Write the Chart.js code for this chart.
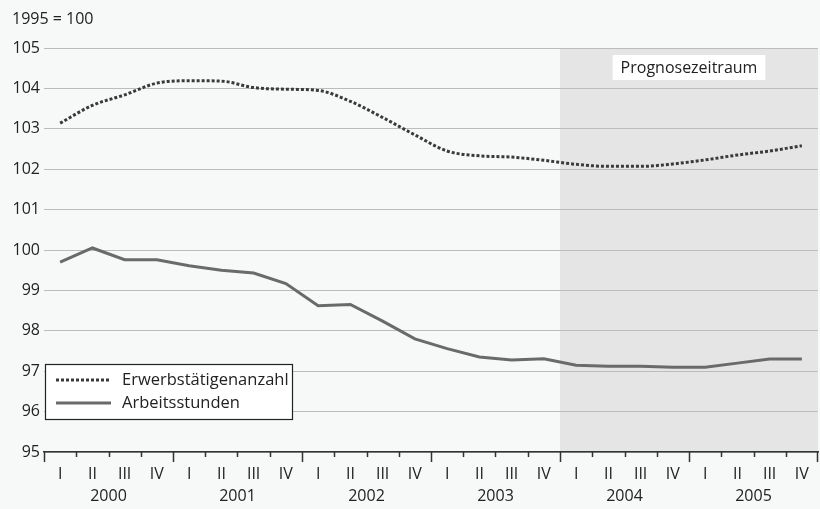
<!DOCTYPE html>
<html>
<head>
<meta charset="utf-8">
<script src="https://cdn.jsdelivr.net/npm/chart.js@4"></script>
<style>
html,body{margin:0;padding:0;background:#f7f8f8;}
#wrap{width:820px;height:509px;position:relative;}
</style>
</head>
<body>
<div id="wrap"><canvas id="c" width="820" height="509"></canvas></div>
<script>
const quarterLabels = ['I','II','III','IV','I','II','III','IV','I','II','III','IV','I','II','III','IV','I','II','III','IV','I','II','III','IV'];
const yearLabels = ['2000','2001','2002','2003','2004','2005'];
const erwerbstaetige = [103.14,103.58,103.84,104.13,104.19,104.18,104.02,103.98,103.95,103.68,103.28,102.85,102.45,102.33,102.30,102.22,102.12,102.07,102.07,102.13,102.23,102.35,102.45,102.58];
const arbeitsstunden = [99.70,100.05,99.76,99.76,99.61,99.50,99.43,99.17,98.62,98.65,98.24,97.80,97.56,97.35,97.28,97.31,97.15,97.12,97.12,97.10,97.10,97.20,97.30,97.30];
const yTicks = [95,96,97,98,99,100,101,102,103,104,105];
const forecastStartIndex = 16;
const forecastLabel = 'Prognosezeitraum';
const unitLabel = '1995 = 100';

const FONT = '"Open Sans", "Noto Sans", sans-serif';
const TXT = '#222';

const decor = {
  id: 'decor',
  beforeDraw(chart) {
    const {ctx, chartArea: a} = chart;
    const x = chart.scales.x;
    const half = (x.getPixelForValue(1) - x.getPixelForValue(0)) / 2;
    ctx.save();
    ctx.fillStyle = '#f7f8f8';
    ctx.fillRect(0, 0, chart.width, chart.height);
    const xs = x.getPixelForValue(forecastStartIndex) - half;
    ctx.fillStyle = '#e5e5e6';
    ctx.fillRect(xs, a.top, a.right - xs, a.bottom - a.top);
    ctx.restore();
  },
  afterDraw(chart) {
    const {ctx, chartArea: a} = chart;
    const x = chart.scales.x;
    const half = (x.getPixelForValue(1) - x.getPixelForValue(0)) / 2;
    ctx.save();
    // x ticks
    ctx.strokeStyle = '#333';
    ctx.lineWidth = 1.5;
    for (let i = 0; i <= quarterLabels.length; i++) {
      const px = i < quarterLabels.length ? x.getPixelForValue(i) - half : a.right - 0.75;
      const len = (i % 4 === 0) ? 10 : 5;
      ctx.beginPath();
      ctx.moveTo(Math.round(px) + 0.5, a.bottom);
      ctx.lineTo(Math.round(px) + 0.5, a.bottom + len);
      ctx.stroke();
    }
    // unit label
    ctx.fillStyle = TXT;
    ctx.font = '16px ' + FONT;
    ctx.textBaseline = 'middle';
    ctx.textAlign = 'left';
    ctx.fillText(unitLabel, 12, 19);
    // forecast label box
    const cx = x.getPixelForValue(20) - half;
    ctx.font = '16px ' + FONT;
    const tw = ctx.measureText(forecastLabel).width;
    const bw = tw + 16, bh = 25;
    const by = a.top + 7;
    ctx.fillStyle = '#ffffff';
    ctx.fillRect(cx - bw / 2, by, bw, bh);
    ctx.fillStyle = TXT;
    ctx.textAlign = 'center';
    ctx.fillText(forecastLabel, cx, by + bh / 2 + 1);
    // legend
    const lx = a.left + 1, ly = 364, lw = 247, lh = 55;
    ctx.fillStyle = '#ffffff';
    ctx.fillRect(lx, ly, lw, lh);
    ctx.strokeStyle = '#222';
    ctx.lineWidth = 1.2;
    ctx.strokeRect(lx + 0.5, ly + 0.5, lw, lh);
    chart.data.datasets.forEach((ds, k) => {
      const yy = ly + 16 + k * 23;
      ctx.beginPath();
      ctx.setLineDash(ds.borderDash || []);
      ctx.strokeStyle = ds.borderColor;
      ctx.lineWidth = ds.borderWidth;
      ctx.moveTo(lx + 11, yy);
      ctx.lineTo(lx + 66, yy);
      ctx.stroke();
      ctx.setLineDash([]);
      ctx.fillStyle = TXT;
      ctx.textAlign = 'left';
      ctx.font = '16.5px ' + FONT;
      ctx.fillText(ds.label, lx + 77, yy);
    });
    ctx.restore();
  }
};

new Chart(document.getElementById('c'), {
  type: 'line',
  data: {
    labels: quarterLabels,
    datasets: [
      {
        label: 'Erwerbstätigenanzahl',
        data: erwerbstaetige,
        borderColor: '#3a3a3a',
        borderWidth: 3,
        borderDash: [3, 2],
        cubicInterpolationMode: 'monotone',
        pointRadius: 0,
        fill: false
      },
      {
        label: 'Arbeitsstunden',
        data: arbeitsstunden,
        borderColor: '#6a6a6a',
        borderWidth: 3,
        tension: 0,
        pointRadius: 0,
        fill: false
      }
    ]
  },
  options: {
    responsive: false,
    animation: false,
    layout: {padding: {top: 48, right: 2, left: 0, bottom: 0}},
    plugins: {legend: {display: false}, tooltip: {enabled: false}},
    scales: {
      x: {
        type: 'category',
        offset: true,
        grid: {display: false, offset: true, drawOnChartArea: false, tickLength: 10},
        border: {display: true, color: '#333', width: 1.5},
        ticks: {color: TXT, font: {family: FONT, size: 16}, padding: 3, maxRotation: 0, autoSkip: false},
        afterFit(s) { s.height = 35; }
      },
      x2: {
        type: 'category',
        labels: yearLabels,
        position: 'bottom',
        offset: true,
        grid: {display: false, drawTicks: false},
        border: {display: false},
        ticks: {color: TXT, font: {family: FONT, size: 16}, padding: 0, maxRotation: 0, autoSkip: false},
        afterFit(s) { s.height = 22; }
      },
      y: {
        min: 95, max: 105,
        afterBuildTicks(s) { s.ticks = yTicks.map(v => ({value: v})); },
        grid: {color: '#bcbcbc', lineWidth: 1, drawTicks: false},
        border: {display: false},
        ticks: {color: TXT, font: {family: FONT, size: 16}, padding: 4},
        afterFit(s) { s.width = 44; }
      }
    }
  },
  plugins: [decor]
});
</script>
</body>
</html>
